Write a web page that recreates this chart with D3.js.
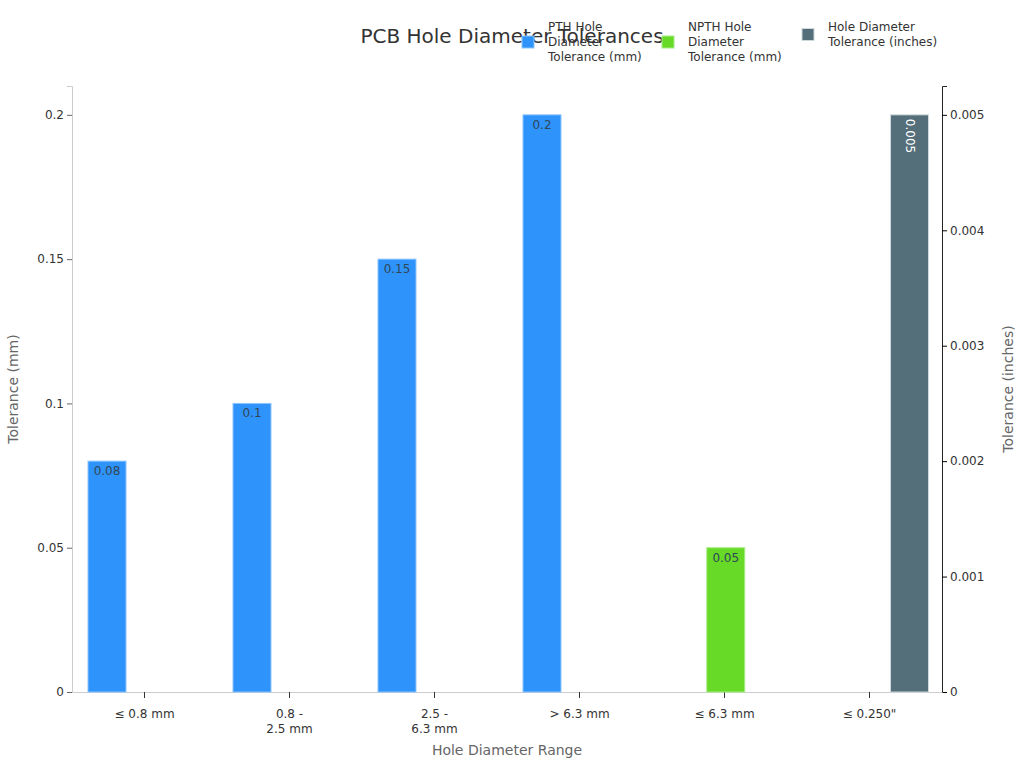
<!DOCTYPE html>
<html>
<head>
<meta charset="utf-8">
<script src="https://cdn.jsdelivr.net/npm/d3@7"></script>
<style>
  body { margin: 0; background: #fff; font-family: "DejaVu Sans", sans-serif; }
</style>
</head>
<body>
<div id="chart"></div>
<script>
// chart data
var categories = ["≤ 0.8 mm", "0.8 - 2.5 mm", "2.5 - 6.3 mm", "> 6.3 mm", "≤ 6.3 mm", "≤ 0.250\""];
var tickLabels = [["≤ 0.8 mm"], ["0.8 -", "2.5 mm"], ["2.5 -", "6.3 mm"], ["> 6.3 mm"], ["≤ 6.3 mm"], ["≤ 0.250\""]];
var pthMm = [0.08, 0.1, 0.15, 0.2, null, null];
var npthMm = [null, null, null, null, 0.05, null];
var holeInches = [null, null, null, null, null, 0.005];
var seriesNames = [["PTH Hole", "Diameter", "Tolerance (mm)"], ["NPTH Hole", "Diameter", "Tolerance (mm)"], ["Hole Diameter", "Tolerance (inches)"]];
var leftTicks = [0, 0.05, 0.1, 0.15, 0.2];
var rightTicks = [0, 0.001, 0.002, 0.003, 0.004, 0.005];

var colors = ["#2E93FA", "#66DA26", "#546E7A"];
var strokes = ["#8cc4fd", "#a8ec86", "#cfd8dc"];

var margins = { top: 86, right: 82, bottom: 76, left: 72 },
  width = 1024 - margins.left - margins.right,
  height = 768 - margins.top - margins.bottom;

var svg = d3.select("#chart").append("svg")
  .attr("width", 1024).attr("height", 768);

var g = svg.append("g")
  .attr("transform", "translate(" + margins.left + "," + margins.top + ")");

var x0 = d3.scaleBand().domain(categories).range([0, width]).padding(0);
var x1 = d3.scaleBand().domain([0, 1, 2]).range([16, 131.5]).paddingInner(0.02);
var yL = d3.scaleLinear().domain([0, 0.21]).range([height, 0]);
var yR = d3.scaleLinear().domain([0, 0.00525]).range([height, 0]);

// left axis
var axL = g.append("g").call(d3.axisLeft(yL).tickValues(leftTicks).tickSize(5).tickFormat(d3.format("")));
axL.select(".domain").attr("stroke", "#cccccc");
axL.selectAll(".tick line").attr("stroke", "#666");
axL.selectAll("text").style("font-size", "12px").style("font-family", "DejaVu Sans").attr("fill", "#333");

// right axis
var axR = g.append("g").attr("transform", "translate(" + width + ",0)")
  .call(d3.axisRight(yR).tickValues(rightTicks).tickSize(5).tickFormat(d3.format("")));
axR.select(".domain").attr("stroke", "#222");
axR.selectAll("text").style("font-size", "12px").style("font-family", "DejaVu Sans").attr("fill", "#333");

// bottom axis
var axB = g.append("g").attr("transform", "translate(0," + height + ")")
  .call(d3.axisBottom(x0).tickSize(6).tickSizeOuter(0));
axB.select(".domain").attr("stroke", "#cccccc");
axB.selectAll(".tick line").attr("stroke", "#333");
axB.selectAll(".tick text").each(function (d, i) {
  var t = d3.select(this).text(null).attr("y", 17).attr("fill", "#333")
    .style("font-size", "12px").style("font-family", "DejaVu Sans");
  tickLabels[i].forEach(function (line, j) {
    t.append("tspan").attr("x", 0).attr("dy", j == 0 ? "0.71em" : "15px").text(line);
  });
});

// bars
var series = [pthMm, npthMm, holeInches];
series.forEach(function (vals, s) {
  var y = s == 2 ? yR : yL;
  var data = categories.map(function (c, i) { return { cat: c, v: vals[i] }; })
    .filter(function (d) { return d.v != null; });
  g.selectAll(".bar" + s).data(data).enter().append("rect")
    .attr("x", function (d) { return x0(d.cat) + x1(s); })
    .attr("y", function (d) { return y(d.v); })
    .attr("width", x1.bandwidth())
    .attr("height", function (d) { return height - y(d.v); })
    .attr("fill", colors[s])
    .attr("stroke", strokes[s]).attr("stroke-width", 1);

  data.forEach(function (d) {
    var cx = x0(d.cat) + x1(s) + x1.bandwidth() / 2;
    if (s == 2) {
      g.append("text")
        .attr("transform", "translate(" + (cx - 4) + "," + (y(d.v) + 4) + ") rotate(90)")
        .attr("text-anchor", "start")
        .style("font-size", "12px").attr("fill", "#fff")
        .text(d.v);
    } else {
      g.append("text")
        .attr("x", cx).attr("y", y(d.v) + 14)
        .attr("text-anchor", "middle")
        .style("font-size", "12px").attr("fill", "#304758")
        .text(d.v);
    }
  });
});

// axis titles
svg.append("text")
  .attr("transform", "translate(18," + (margins.top + height / 2) + ") rotate(-90)")
  .attr("text-anchor", "middle").style("font-size", "14px").attr("fill", "#666")
  .text("Tolerance (mm)");
svg.append("text")
  .attr("transform", "translate(1013," + (margins.top + height / 2) + ") rotate(-90)")
  .attr("text-anchor", "middle").style("font-size", "14px").attr("fill", "#666")
  .text("Tolerance (inches)");
svg.append("text")
  .attr("x", margins.left + width / 2).attr("y", 755)
  .attr("text-anchor", "middle").style("font-size", "14px").attr("fill", "#666")
  .text("Hole Diameter Range");

// title
svg.append("text")
  .attr("x", 512).attr("y", 43)
  .attr("text-anchor", "middle").style("font-size", "20px").attr("fill", "#333")
  .text("PCB Hole Diameter Tolerances");

// legend
var legendX = [522, 662, 802];
seriesNames.forEach(function (lines, s) {
  var lg = svg.append("g").attr("transform", "translate(" + legendX[s] + ",0)");
  var mid = 27 + (lines.length - 1) * 15 / 2;
  lg.append("rect").attr("x", 0).attr("y", mid - 6).attr("width", 12).attr("height", 12)
    .attr("fill", colors[s]).attr("stroke", strokes[s]).attr("stroke-width", 1);
  var t = lg.append("text").attr("x", 26).attr("y", 31)
    .style("font-size", "12px").attr("fill", "#333");
  lines.forEach(function (line, j) {
    t.append("tspan").attr("x", 26).attr("dy", j == 0 ? 0 : 15).text(line);
  });
});
</script>
</body>
</html>
